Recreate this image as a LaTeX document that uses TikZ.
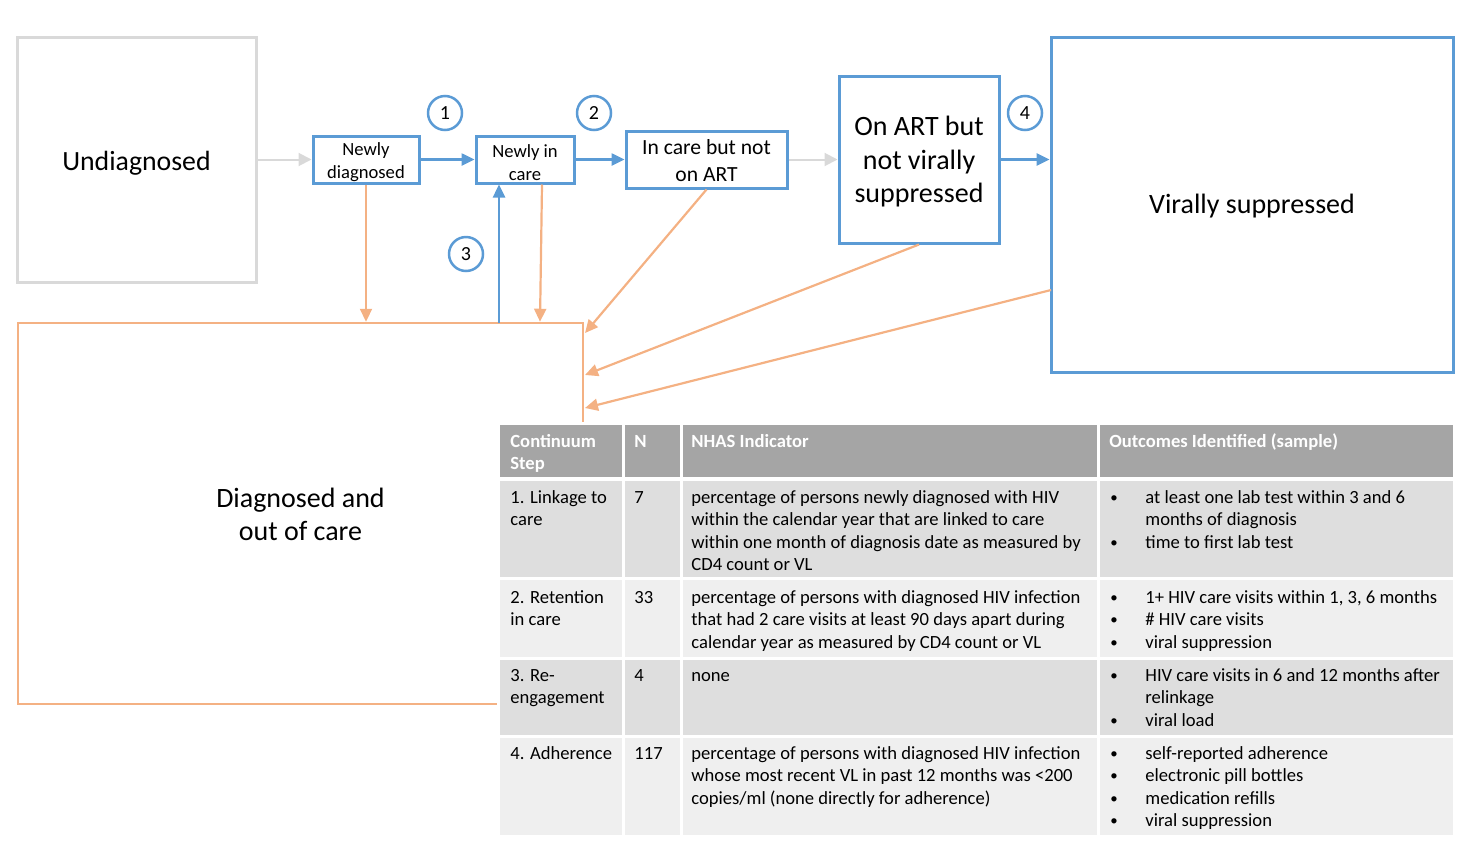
\documentclass[tikz,border=0pt]{standalone}
\usepackage{fontspec}
\setmainfont{Carlito}
\usetikzlibrary{arrows.meta}
\definecolor{bl}{HTML}{5B9BD5}
\definecolor{orn}{HTML}{F4B183}
\definecolor{gry}{HTML}{D9D9D9}
\definecolor{th}{HTML}{A5A5A5}
\definecolor{ra}{HTML}{DEDEDE}
\definecolor{rb}{HTML}{EFEFEF}
\tikzset{
  bbox/.style={draw=bl, line width=1.5pt, fill=white, inner sep=0pt},
  gbox/.style={draw=gry, line width=1.5pt, fill=white, inner sep=0pt},
  obox/.style={draw=orn, line width=1.25pt, inner sep=0pt},
  btxt/.style={inner sep=0pt, align=center},
  num/.style={draw=bl, line width=1.25pt, circle, minimum size=17pt, inner sep=0pt, font=\fontsize{10}{12}\selectfont},
  barrow/.style={draw=bl, line width=1.25pt, -{Triangle[length=6.5pt,width=6pt]}},
  garrow/.style={draw=gry, line width=1pt, -{Triangle[length=6.5pt,width=6.5pt]}},
  oarrow/.style={draw=orn, line width=1.1pt, -{Triangle[length=6.5pt,width=6pt]}},
  cell/.style={anchor=north west, inner sep=0pt, align=left, font=\fontsize{9.3}{11.25}\selectfont},
  hcell/.style={cell, text=white, font=\fontsize{9.3}{11.25}\selectfont\bfseries},
}
\newcommand{\fs}{\rule{0pt}{7pt}}
\newcommand{\bul}{\raisebox{0.5pt}{\scalebox{0.8}{•}}}
\begin{document}
\begin{tikzpicture}[x=0.5pt,y=-0.5pt]
\useasboundingbox (0,0) rectangle (1459,841);
% boxes
\node[gbox, minimum width=119.5pt, minimum height=122.5pt] (U) at (136.5,159.5) {};
\node[bbox, minimum width=53pt, minimum height=23.5pt] (ND) at (366,159.5) {};
\node[bbox, minimum width=49pt, minimum height=23.5pt] (NIC) at (525,159.5) {};
\node[bbox, minimum width=80.5pt, minimum height=28.5pt] (ICNA) at (706.5,159.5) {};
\node[bbox, minimum width=80pt, minimum height=83.5pt] (OART) at (919,159.5) {};
\node[bbox, minimum width=201pt, minimum height=167.5pt] (VS) at (1252,204.5) {};
\node[obox, minimum width=282.5pt, minimum height=190.5pt] (DOC) at (300.5,513.5) {};
% box texts
\node[btxt, font=\fontsize{13.9}{16.5}\selectfont] (Ut) at ([yshift=-2pt]U.center) {Undiagnosed};
\node[btxt, font=\fontsize{9.3}{11.5}\selectfont] (NDt) at ([yshift=-1.5pt]ND.center) {Newly\\diagnosed};
\node[btxt, font=\fontsize{9.3}{11.5}\selectfont] (NICt) at ([yshift=-1.5pt]NIC.center) {Newly in\\care};
\node[btxt, font=\fontsize{10.8}{13.5}\selectfont] (ICNAt) at ([yshift=-0.75pt]ICNA.center) {In care but not\\on ART};
\node[btxt, font=\fontsize{14}{16.75}\selectfont] (OARTt) at ([yshift=-1.25pt]OART.center) {On ART but\\not virally\\suppressed};
\node[btxt, font=\fontsize{14}{16.5}\selectfont] (VSt) at ([yshift=-1pt]VS.center) {Virally suppressed};
\node[btxt, font=\fontsize{14}{16.5}\selectfont] (DOCt) at ([yshift=-0.5pt]DOC.center) {Diagnosed and\\out of care};
% numbers
\node[num] (n1) at (445,113) {1};
\node[num] (n2) at (594,113) {2};
\node[num] (n3) at (466,254) {3};
\node[num] (n4) at (1025,113) {4};
% forward arrows
\draw[garrow] (U.east) -- (ND.west);
\draw[barrow] (ND.east) -- (NIC.west);
\draw[barrow] (NIC.east) -- (ICNA.west);
\draw[garrow] (ICNA.east) -- (OART.west);
\draw[barrow] (OART.east) -- (VS.west |- OART.east);
% into out of care
\coordinate (c3) at (499,323);
\coordinate (t1) at (585,333);
\coordinate (t2) at (585,375);
\coordinate (t3) at (585,408);
\coordinate (vsl) at (1051,290);
\draw[oarrow] (ND.south) -- (ND.south |- DOC.north);
\draw[barrow] (c3) -- (c3 |- NIC.south);
\draw[oarrow] ([xshift=8.5pt]NIC.south) -- ([xshift=7.5pt]NIC.south |- DOC.north);
\draw[oarrow] (ICNA.south) -- (t1);
\draw[oarrow] (OART.south) -- (t2);
\draw[oarrow] (vsl) -- (t3);
% table
\fill[white] (497,422) rectangle (1456,838);
\fill[th] (500,425) rectangle (1453,477);
\fill[ra] (500,481) rectangle (1453,577);
\fill[rb] (500,580) rectangle (1453,657);
\fill[ra] (500,660) rectangle (1453,735);
\fill[rb] (500,738) rectangle (1453,835);
\foreach \xx in {623,681,1098} \draw[white, line width=1.5pt] (\xx,424) -- (\xx,836);
% header
\node[hcell] (h1) at (510,433) {\fs Continuum\\Step};
\node[hcell] (h2) at (634,433) {\fs N};
\node[hcell] (h3) at (691,433) {\fs NHAS Indicator};
\node[hcell] (h4) at (1109,433) {\fs Outcomes Identified (sample)};
% row 1
\node[cell] (r1a) at (510,489) {\fs 1. Linkage to\\care};
\node[cell] (r1b) at (634,489) {\fs 7};
\node[cell] (r1c) at (691,489) {\fs percentage of persons newly diagnosed with HIV\\within the calendar year that are linked to care\\within one month of diagnosis date as measured by\\CD4 count or VL};
\node[cell] (r1d) at (1110,489) {\fs \bul\\\mbox{}\\\bul};
\node[cell] (r1e) at (1145,489) {\fs at least one lab test within 3 and 6\\months of diagnosis\\time to first lab test};
% row 2
\node[cell] (r2a) at (510,589) {\fs 2. Retention\\in care};
\node[cell] (r2b) at (634,589) {\fs 33};
\node[cell] (r2c) at (691,589) {\fs percentage of persons with diagnosed HIV infection\\that had 2 care visits at least 90 days apart during\\calendar year as measured by CD4 count or VL};
\node[cell] (r2d) at (1110,589) {\fs \bul\\\bul\\\bul};
\node[cell] (r2e) at (1145,589) {\fs 1+ HIV care visits within 1, 3, 6 months\\\# HIV care visits\\viral suppression};
% row 3
\node[cell] (r3a) at (510,667) {\fs 3. Re-\\engagement};
\node[cell] (r3b) at (634,667) {\fs 4};
\node[cell] (r3c) at (691,667) {\fs none};
\node[cell] (r3d) at (1110,667) {\fs \bul\\\mbox{}\\\bul};
\node[cell] (r3e) at (1145,667) {\fs HIV care visits in 6 and 12 months after\\relinkage\\viral load};
% row 4
\node[cell] (r4a) at (510,745) {\fs 4. Adherence};
\node[cell] (r4b) at (634,745) {\fs 117};
\node[cell] (r4c) at (691,745) {\fs percentage of persons with diagnosed HIV infection\\whose most recent VL in past 12 months was <200\\copies/ml (none directly for adherence)};
\node[cell] (r4d) at (1110,745) {\fs \bul\\\bul\\\bul\\\bul};
\node[cell] (r4e) at (1145,745) {\fs self-reported adherence\\electronic pill bottles\\medication refills\\viral suppression};
\end{tikzpicture}
\end{document}
